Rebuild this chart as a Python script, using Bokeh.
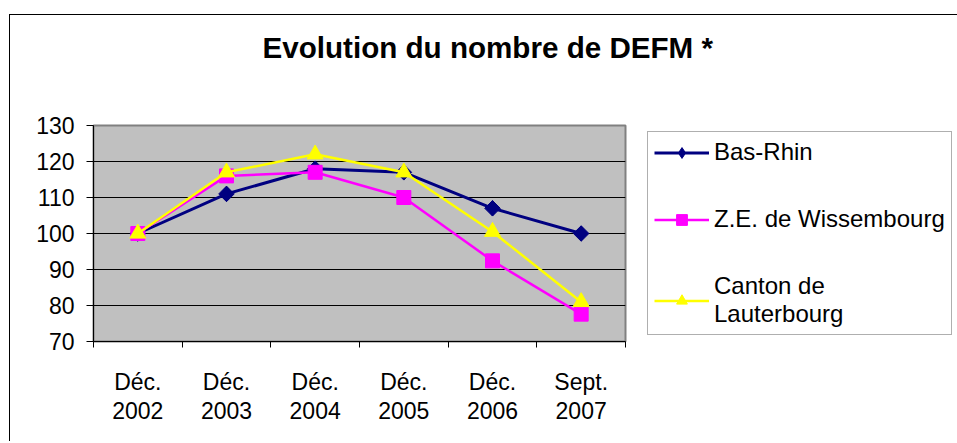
import math
from bokeh.plotting import figure
from bokeh.models import Range1d, FixedTicker, Legend, LegendItem, Title
from bokeh.embed import file_html
from bokeh.resources import INLINE

categories = ["Déc.\n2002", "Déc.\n2003", "Déc.\n2004", "Déc.\n2005", "Déc.\n2006", "Sept.\n2007"]
bas_rhin = [100, 111, 118, 117, 107, 100]
wissembourg = [100, 116, 117, 110, 92.4, 77.6]
lauterbourg = [100, 117, 122, 117, 100.5, 81]
series_names = ["Bas-Rhin", "Z.E. de Wissembourg", "Canton de\nLauterbourg"]
y_ticks = [70, 80, 90, 100, 110, 120, 130]
chart_title = "Evolution du nombre de DEFM *"

FONT = "Liberation Sans"
xs = list(range(len(categories)))

p = figure(frame_width=532, frame_height=216, output_backend="svg", toolbar_location=None,
           x_range=Range1d(-0.5, len(categories) - 0.5), y_range=Range1d(70, 130),
           min_border_left=83, min_border_right=0, min_border_top=110, min_border_bottom=100,
           margin=(14, 0, 0, 9),
           styles={"border-left": "1px solid black", "border-top": "1px solid black"})

p.background_fill_color = "#C0C0C0"
p.border_fill_color = "white"
p.outline_line_color = "#808080"
p.outline_line_width = 2

# real title (outermost) + an invisible spacer between it and the frame
p.title.text = chart_title
p.title.text_font = FONT
p.title.text_font_size = "29.6px"
p.title.text_font_style = "bold"
p.title.text_color = "black"
p.title.align = "left"
p.title.offset = 169
p.title.standoff = 0
spacer = Title(text=" ", text_font_size="2px", standoff=58)
p.add_layout(spacer, "above")

# axes
xa = p.xaxis[0]
xa.ticker = FixedTicker(ticks=xs, minor_ticks=[i - 0.5 for i in range(len(categories) + 1)])
xa.major_label_overrides = {i: c for i, c in enumerate(categories)}
xa.major_tick_out = 0
xa.major_tick_in = 0
xa.minor_tick_out = 6
xa.minor_tick_in = 0
xa.minor_tick_line_color = "black"
xa.axis_line_color = "black"
xa.axis_line_width = 1
xa.major_label_text_font = FONT
xa.major_label_text_font_size = "23px"
xa.major_label_text_color = "black"
xa.major_label_text_line_height = 1.12
xa.major_label_standoff = 21

ya = p.yaxis[0]
ya.ticker = FixedTicker(ticks=y_ticks)
ya.major_tick_out = 7
ya.major_tick_in = 0
ya.minor_tick_out = 0
ya.minor_tick_in = 0
ya.major_tick_line_color = "black"
ya.axis_line_color = "black"
ya.major_label_text_font = FONT
ya.major_label_text_font_size = "23px"
ya.major_label_text_color = "black"
ya.major_label_standoff = 12

p.xgrid.visible = False
p.ygrid.ticker = FixedTicker(ticks=y_ticks)
p.ygrid.grid_line_color = "black"
p.ygrid.grid_line_width = 1

colors = ["#000080", "#FF00FF", "#FFFF00"]
markers = ["square", "square", "triangle"]
angles = [math.pi / 4, 0, 0]
sizes = [11, 14, 16]
widths = [3, 2.5, 2.5]
legend_markers = ["diamond", "square", "triangle"]
legend_sizes = [15, 14, 16]
data = [bas_rhin, wissembourg, lauterbourg]

items = []
for name, ys, col, mk, ang, sz, lw, lmk, lsz in zip(series_names, data, colors, markers, angles,
                                                   sizes, widths, legend_markers, legend_sizes):
    l = p.line(xs, ys, line_color=col, line_width=lw)
    s = p.scatter(xs, ys, marker=mk, angle=ang, size=sz, fill_color=col, line_color=col)
    if lmk != mk:
        s2 = p.scatter(xs, ys, marker=lmk, size=lsz, fill_color=col, line_color=col)
    else:
        s2 = s
    items.append(LegendItem(label=name, renderers=[l, s2]))

legend = Legend(items=items, location=(22, 6))
legend.label_text_font = FONT
legend.label_text_font_size = "24px"
legend.label_text_line_height = 1.12
legend.label_text_color = "black"
legend.glyph_width = 55
legend.glyph_height = 27
legend.label_standoff = 5
legend.label_height = 27
legend.spacing = 39
legend.padding = 6
legend.margin = 0
legend.border_line_color = "#606060"
legend.border_line_width = 1
legend.background_fill_color = "white"
legend.background_fill_alpha = 1
p.add_layout(legend, "right")

open("out.html", "w").write(file_html(p, INLINE))
